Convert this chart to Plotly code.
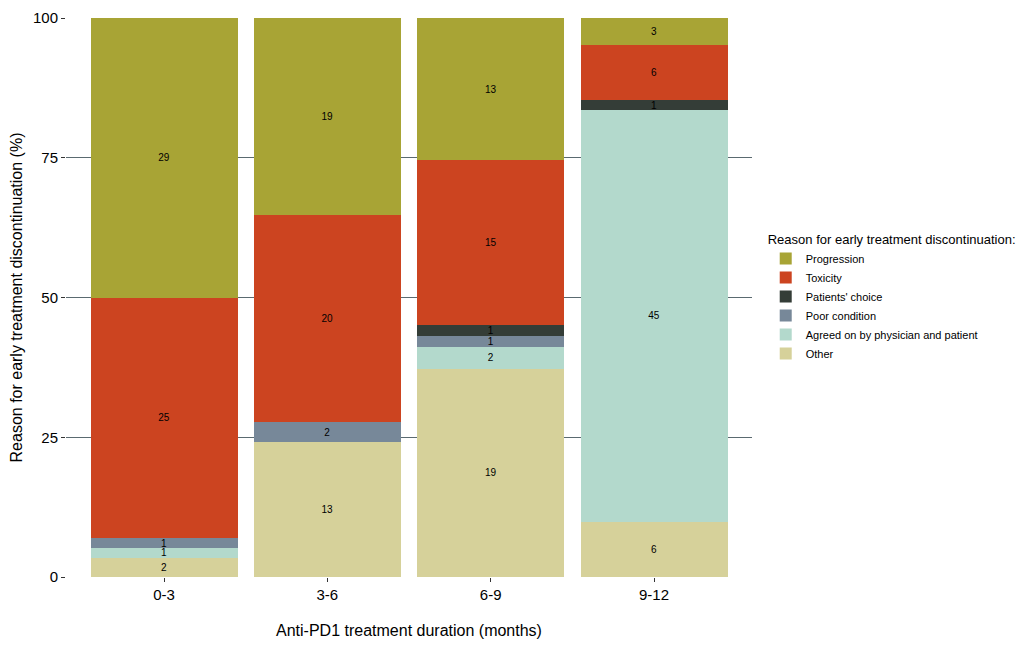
import plotly.graph_objects as go

groups = ["0-3", "3-6", "6-9", "9-12"]
reasons = ["Other", "Agreed on by physician and patient", "Poor condition", "Patients' choice", "Toxicity", "Progression"]
other = [2, 13, 19, 6]
agreed = [1, 0, 2, 45]
poor = [1, 2, 1, 0]
choice = [0, 0, 1, 1]
toxicity = [25, 20, 15, 6]
progression = [29, 19, 13, 3]
series = [other, agreed, poor, choice, toxicity, progression]
colors = ["#D6D19A", "#B3D9CC", "#778899", "#343D37", "#CC4420", "#A8A435"]

fig = go.Figure()
for name, vals, c in zip(reasons, series, colors):
    fig.add_trace(go.Bar(
        x=groups, y=vals, name=name, marker=dict(color=c, line=dict(width=0)),
        text=[str(v) if v > 0 else "" for v in vals], textposition="inside",
        insidetextanchor="middle", textangle=0, constraintext="none",
        textfont=dict(color="black", size=10), cliponaxis=False,
        hoverinfo="skip"))

fig.update_layout(
    barmode="stack", barnorm="percent", bargap=0.1,
    width=1034, height=647, plot_bgcolor="white", paper_bgcolor="white",
    font=dict(family="Liberation Sans, Arial", color="black"),
    margin=dict(l=58, r=290, t=10, b=78, autoexpand=False),
    uniformtext=dict(minsize=10, mode="show"),
    legend=dict(title=dict(text="Reason for early treatment discontinuation:", font=dict(size=13)),
                traceorder="reversed", x=1.02, y=0.5, yanchor="middle", font=dict(size=11)),
    xaxis=dict(title=dict(text="Anti-PD1 treatment duration (months)", font=dict(size=16), standoff=22),
               range=[-0.6, 3.6],
               tickfont=dict(size=15), ticks="outside", ticklen=4, tickcolor="#333", automargin=False),
    yaxis=dict(title=dict(text="Reason for early treatment discontinuation (%)", font=dict(size=16)),
               range=[0, 100], tickvals=[0, 25, 50, 75, 100], tickfont=dict(size=15),
               showgrid=True, gridcolor="#5a6a70", gridwidth=1.2, zeroline=False,
               ticks="outside", ticklen=4, tickcolor="#333", automargin=False),
)
fig.write_html("out.html")
